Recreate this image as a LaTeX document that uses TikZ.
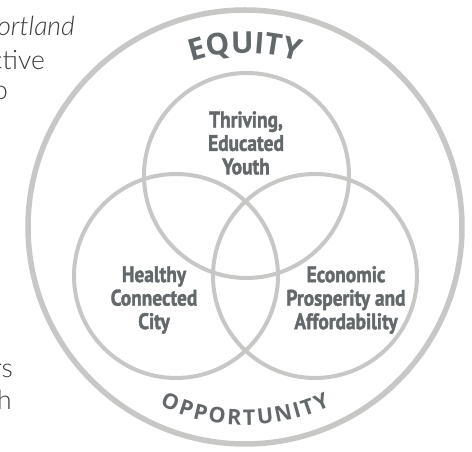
\documentclass[tikz,border=0pt]{standalone}
\usepackage{fontspec}
\usetikzlibrary{decorations.text}
\newfontfamily\ringfont{Open Sans}
\newfontfamily\lblfont{PT Sans}[FakeStretch=0.86,FakeBold=1.6]
\newfontfamily\sidefont{Lato Light}
\definecolor{ringgray}{HTML}{C7C7C5}
\definecolor{txtgray}{HTML}{63686B}
\definecolor{sidegray}{HTML}{3A3A3A}
\begin{document}
\begin{tikzpicture}[x=1pt,y=1pt,
  ring/.style={draw=ringgray,line width=5.5pt},
  petal/.style={draw=ringgray,line width=4pt},
  lbl/.style={text=txtgray,align=center,inner sep=0pt,font=\lblfont\bfseries\fontsize{22.5}{23.5}\selectfont},
  side/.style={text=sidegray,inner sep=0pt,font=\sidefont\fontsize{26.5}{33}\selectfont}]
\useasboundingbox (0,0) rectangle (472,452);
\clip (0,0) rectangle (472,452);
\coordinate (C) at (245,225);
% side texts (cut off)
\node[side,anchor=base east] (s1) at (75,416) {\itshape ortland};
\node[side,anchor=base east] (s2) at (45,382) {ctive};
\node[side,anchor=base east] (s3) at (8,352) {o};
\node[side,anchor=base east] (s4) at (13,74) {rs};
\node[side,anchor=base east] (s5) at (12,42) {h};
% circles
\draw[ring] (C) circle[radius=217];
\draw[petal] (246.5,276.5) circle[radius=102.5];
\draw[petal] (176,176) circle[radius=102];
\draw[petal] (315,176) circle[radius=102];
% curved words
\path[decorate,decoration={text along path,text align={fit to path},
  text={|\ringfont\bfseries\fontsize{30}{30}\selectfont\color{txtgray}|EQUITY}}]
  (C) ++(108:174) arc[start angle=108,end angle=72,radius=174];
\path[decorate,decoration={text along path,text align={fit to path},
  text={|\ringfont\bfseries\fontsize{21.5}{21.5}\selectfont\color{txtgray}|OPPORTUNITY}}]
  (C) ++(244.5:198) arc[start angle=244.5,end angle=295.5,radius=198];
% labels
\node[lbl] (youth) at (246,309) {Thriving,\\Educated\\Youth};
\node[lbl] (health) at (154,152) {Healthy\\Connected\\City};
\node[lbl] (econ) at (346,152) {Economic\\Prosperity and\\Affordability};
\end{tikzpicture}
\end{document}
